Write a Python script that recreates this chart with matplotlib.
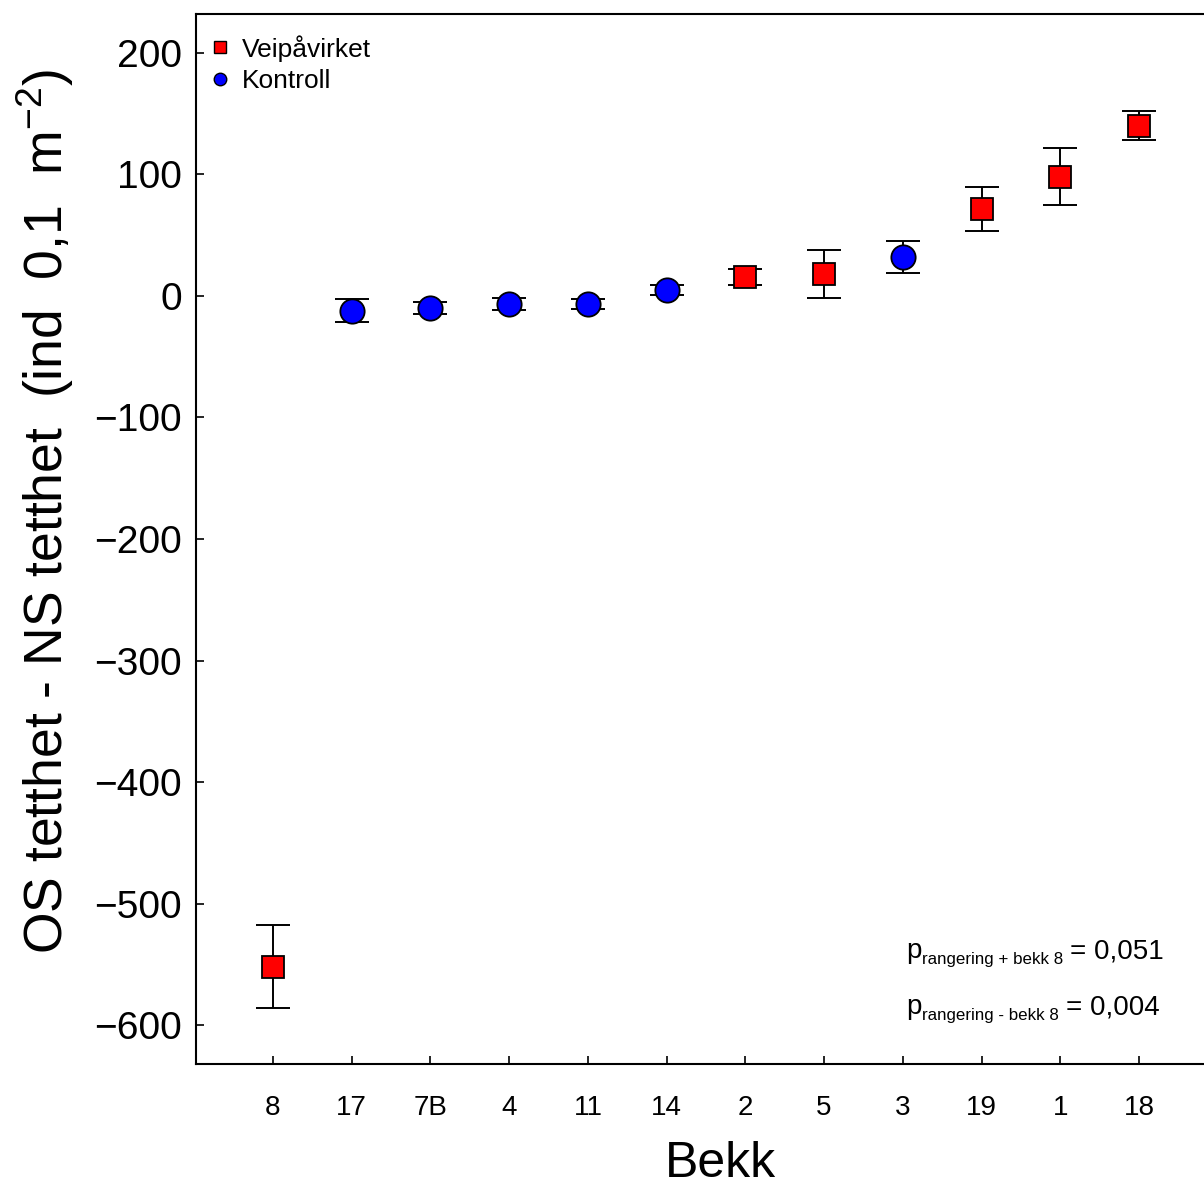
import matplotlib.pyplot as plt
import numpy as np

plt.rcParams['font.family'] = ['Liberation Sans', 'DejaVu Sans']
plt.rcParams['mathtext.fontset'] = 'custom'
plt.rcParams['mathtext.rm'] = 'Liberation Sans'
plt.rcParams['mathtext.it'] = 'Liberation Sans'

bekk = ['8', '17', '7B', '4', '11', '14', '2', '5', '3', '19', '1', '18']
diff = [-552, -12, -10, -6.5, -6.5, 5, 15.5, 18, 32, 71.5, 98, 140]
se = [34, 9.5, 5, 5, 4, 4, 6.5, 20, 13, 18, 23.5, 12]
gruppe = ['V', 'K', 'K', 'K', 'K', 'K', 'V', 'V', 'K', 'V', 'V', 'V']

x = np.arange(len(bekk))
diff = np.array(diff)
se = np.array(se)
isv = np.array([g == 'V' for g in gruppe])

fig = plt.figure(figsize=(12.04, 11.9), dpi=100)
ax = fig.add_axes([196/1204, (1190-1064)/1190, (1204-196)/1204, (1064-14)/1190])

ax.errorbar(x, diff, yerr=se, fmt='none', ecolor='black', elinewidth=1.4,
            capsize=12, capthick=1.4, zorder=2)
ax.plot(x[isv], diff[isv], 's', color='red', markeredgecolor='black',
        markeredgewidth=1.3, markersize=16, linestyle='none', zorder=3)
ax.plot(x[~isv], diff[~isv], 'o', color='blue', markeredgecolor='black',
        markeredgewidth=1.3, markersize=17.5, linestyle='none', zorder=3)

# legend handles
hv, = ax.plot([], [], 's', color='red', markeredgecolor='black', markeredgewidth=1, markersize=8)
hk, = ax.plot([], [], 'o', color='blue', markeredgecolor='black', markeredgewidth=1, markersize=9)
ax.legend([hv, hk], ['Veipåvirket', 'Kontroll'], loc='upper left', frameon=False,
          fontsize=19, handlelength=0.7, handletextpad=0.5, labelspacing=0.3,
          borderaxespad=0.15, bbox_to_anchor=(0.0, 0.994))

ax.set_xlim(-0.978, 11.826)
ax.set_ylim(-632, 232)
ax.set_xticks(x)
ax.set_xticklabels(bekk, fontsize=20)
ax.set_yticks([200, 100, 0, -100, -200, -300, -400, -500, -600])
ax.tick_params(axis='y', labelsize=28, direction='in', length=6, width=1.2, pad=10)
ax.tick_params(axis='x', direction='in', length=6, width=1.2, pad=22)
ax.spines['right'].set_visible(False)
for s in ['left', 'top', 'bottom']:
    ax.spines[s].set_linewidth(1.5)

fig.text(720/1204, 1 - 1177/1190, 'Bekk', fontsize=36, ha='center', va='baseline')
fig.text(45/1204, 1 - 512/1190, 'OS tetthet - NS tetthet  (ind  0,1  m$^{-2}$)',
         fontsize=38.5, rotation=90, ha='center', va='center')

# p-values: big p, small subscript, big rest
renderer = fig.canvas.get_renderer()
def ptext(x0, ybase, sub, rest):
    t1 = fig.text(x0/1204, 1 - ybase/1190, 'p', fontsize=20, ha='left', va='baseline')
    e1 = t1.get_window_extent(renderer)
    t2 = fig.text(e1.x1/1204 + 1/1204, 1 - (ybase + 6)/1190, sub, fontsize=12.2,
                  ha='left', va='baseline')
    e2 = t2.get_window_extent(renderer)
    fig.text(e2.x1/1204 + 7/1204, 1 - ybase/1190, rest, fontsize=20, ha='left', va='baseline')

ptext(906, 958, 'rangering + bekk 8', '= 0,051')
ptext(906, 1014, 'rangering - bekk 8', '= 0,004')

fig.savefig('out.png', dpi=100)
